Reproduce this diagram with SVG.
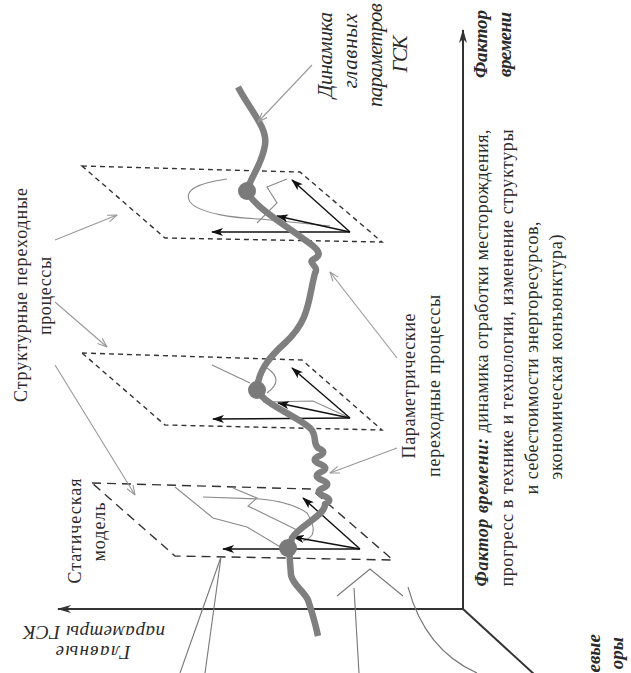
<svg xmlns="http://www.w3.org/2000/svg" width="631" height="673" viewBox="0 0 631 673">
<defs>
<style>
.t{font-family:"Liberation Serif","DejaVu Serif",serif;fill:#2a2a2a;font-size:18px}
.big{font-size:21px}
.mid{font-size:18px}
.lab{font-size:19px}
.it{font-style:italic}
.bi{font-style:italic;font-weight:bold}
.axis{stroke:#333;stroke-width:2;fill:none}
.plane{stroke:#333;stroke-width:1.4;fill:none;stroke-dasharray:5 4}
.plane3{stroke-dasharray:9 6}
.vec{stroke:#111;stroke-width:1.4;fill:none;marker-end:url(#vh)}
.thin{stroke:#8a8a8a;stroke-width:1.1;fill:none}
.lead{stroke:#999;stroke-width:1.1;fill:none;marker-end:url(#oh)}
.line{stroke:#777;stroke-width:1.1;fill:none}
.main{stroke:#7f7f7f;stroke-width:6.5;fill:none;stroke-linejoin:round}
.dot{fill:#7a7a7a}
</style>
<marker id="vh" viewBox="0 0 12 8" refX="11" refY="4" markerWidth="12" markerHeight="8" orient="auto" markerUnits="userSpaceOnUse"><path d="M0,0 L12,4 L0,8 L3,4 z" fill="#111"/></marker>
<marker id="ax" viewBox="0 0 14 8" refX="13" refY="4" markerWidth="14" markerHeight="8" orient="auto" markerUnits="userSpaceOnUse"><path d="M0,0 L14,4 L0,8 L4,4 z" fill="#333"/></marker>
<marker id="oh" viewBox="0 0 10 8" refX="9.5" refY="4" markerWidth="10" markerHeight="8" orient="auto" markerUnits="userSpaceOnUse"><path d="M0,0.5 L9.5,4 L0,7.5" fill="none" stroke="#999" stroke-width="1.1"/></marker>
</defs>

<g id="axes">
<line class="axis" x1="463" y1="609" x2="463" y2="30" marker-end="url(#ax)"/>
<line class="axis" x1="463" y1="609" x2="58" y2="609" marker-end="url(#ax)"/>
<line class="axis" x1="463" y1="609" x2="535" y2="675"/>
</g>

<g id="plane1">
<polygon class="plane" points="82,166 300,172 382,242 165,238"/>
<path class="thin" d="M227,179 C198,183 183,190 190,202 C200,214 235,218 260,219 L330,226"/>
<path class="thin" d="M287,179 L267,187 L277,203 L257,223"/>
<line class="vec" x1="350" y1="232" x2="292" y2="180"/>
<line class="vec" x1="350" y1="232" x2="277" y2="216"/>
<line class="vec" x1="350" y1="232" x2="212" y2="232"/>
</g>

<g id="plane2">
<polygon class="plane" points="82,353 302,360 382,430 165,425"/>
<path class="thin" d="M212,365 L250,383"/>
<path class="thin" d="M267,368 Q285,380 267,393"/>
<path class="thin" d="M263,402 L313,401 L350,418"/>
<line class="vec" x1="350" y1="418" x2="292" y2="368"/>
<line class="vec" x1="350" y1="418" x2="278" y2="403"/>
<line class="vec" x1="350" y1="418" x2="213" y2="419"/>
</g>

<g id="plane3">
<polygon class="plane plane3" points="92,483 311,489 393,560 175,556"/>
<path class="thin" d="M175,487 L213,518 L247,527 L282,548"/>
<path class="thin" d="M203,497 L260,499 Q292,502 307,513 Q316,527 312,535 Q308,540 303,541"/>
<path class="thin" d="M233,488 L257,498 L248,506 L297,530"/>
<line class="vec" x1="360" y1="549" x2="303" y2="498"/>
<line class="vec" x1="360" y1="549" x2="293" y2="537"/>
<line class="vec" x1="360" y1="549" x2="223" y2="549"/>
</g>

<g id="trajectory">
<path class="main" d="M238,87 C250,110 268,128 265,145 C262,165 250,178 247,191 C252,205 285,225 305,240 C320,250 322,255 314,259 C306,263 320,266 315,273 C308,300 310,320 285,343 C268,358 258,372 257,390 C265,405 295,415 310,428 C318,436 312,442 318,448 q10,4 1,8 t1,8 t1,8 t1,8 t1,8 t1,8 t1,8 C326,515 300,525 292,538 C288,548 290,560 291,575 C293,585 303,590 308,600 C312,612 315,622 318,636"/>
<circle class="dot" cx="247" cy="191" r="9"/>
<circle class="dot" cx="257" cy="390" r="9"/>
<circle class="dot" cx="288" cy="548" r="9"/>
</g>

<g id="connectors">
<line class="lead" x1="312" y1="65" x2="258" y2="122"/>
<line class="lead" x1="55" y1="240" x2="117" y2="215"/>
<line class="lead" x1="55" y1="302" x2="107" y2="347"/>
<line class="lead" x1="55" y1="365" x2="135" y2="495"/>
<line class="lead" x1="397" y1="358" x2="330" y2="272"/>
<line class="lead" x1="397" y1="448" x2="330" y2="473"/>
<line class="line" x1="221" y1="557" x2="180" y2="673"/>
<line class="line" x1="221" y1="557" x2="205" y2="673"/>
<path class="line" d="M337,596 L370,569 L403,596"/>
<line class="line" x1="354" y1="588" x2="359" y2="673"/>
<path class="line" d="M408,587 Q425,650 477,673"/>
</g>

<g id="label-dynamics">
<text class="t it big" text-anchor="middle" transform="translate(332,55) rotate(-90)" textLength="86">Динамика</text>
<text class="t it big" text-anchor="middle" transform="translate(357,51) rotate(-90)" textLength="75">главных</text>
<text class="t it big" text-anchor="middle" transform="translate(382,55) rotate(-90)" textLength="104">параметров</text>
<text class="t it big" text-anchor="middle" transform="translate(407,54) rotate(-90)" textLength="37">ГСК</text>
</g>

<g id="label-time">
<text class="t bi lab" transform="translate(487,78) rotate(-90)" textLength="68">Фактор</text>
<text class="t bi lab" transform="translate(511,77) rotate(-90)" textLength="65">времени</text>
</g>

<g id="label-time-factor">
<text class="t mid" text-anchor="middle" transform="translate(488,358) rotate(-90)" textLength="457"><tspan class="bi">Фактор времени:</tspan> динамика отработки месторождения,</text>
<text class="t mid" text-anchor="middle" transform="translate(513,358) rotate(-90)" textLength="457">прогресс в технике и технологии, изменение структуры</text>
<text class="t mid" text-anchor="middle" transform="translate(538,358) rotate(-90)" textLength="273">и себестоимости энергоресурсов,</text>
<text class="t mid" text-anchor="middle" transform="translate(562,357) rotate(-90)" textLength="245">экономическая конъюнктура)</text>
</g>

<g id="label-parametric">
<text class="t" text-anchor="middle" transform="translate(415,386) rotate(-90)" textLength="145">Параметрические</text>
<text class="t" text-anchor="middle" transform="translate(440,386) rotate(-90)" textLength="182">переходные процессы</text>
</g>

<g id="label-structural">
<text class="t" text-anchor="middle" transform="translate(27,295) rotate(-90)" textLength="214">Структурные переходные</text>
<text class="t" text-anchor="middle" transform="translate(51,296) rotate(-90)" textLength="78">процессы</text>
</g>

<g id="label-static">
<text class="t" text-anchor="middle" transform="translate(81,531) rotate(-90)" textLength="105">Статическая</text>
<text class="t" text-anchor="middle" transform="translate(105,532) rotate(-90)" textLength="59">модель</text>
</g>

<g id="label-main-params">
<text class="t it lab" text-anchor="middle" transform="translate(93,646) rotate(180)" textLength="75">Главные</text>
<text class="t it lab" text-anchor="middle" transform="translate(94,626) rotate(180)" textLength="142">параметры ГСК</text>
</g>

<g id="label-cut">
<text class="t bi lab" text-anchor="end" transform="translate(600,634) rotate(-90)">евые</text>
<text class="t bi lab" text-anchor="end" transform="translate(623,637) rotate(-90)">оры</text>
</g>
</svg>
